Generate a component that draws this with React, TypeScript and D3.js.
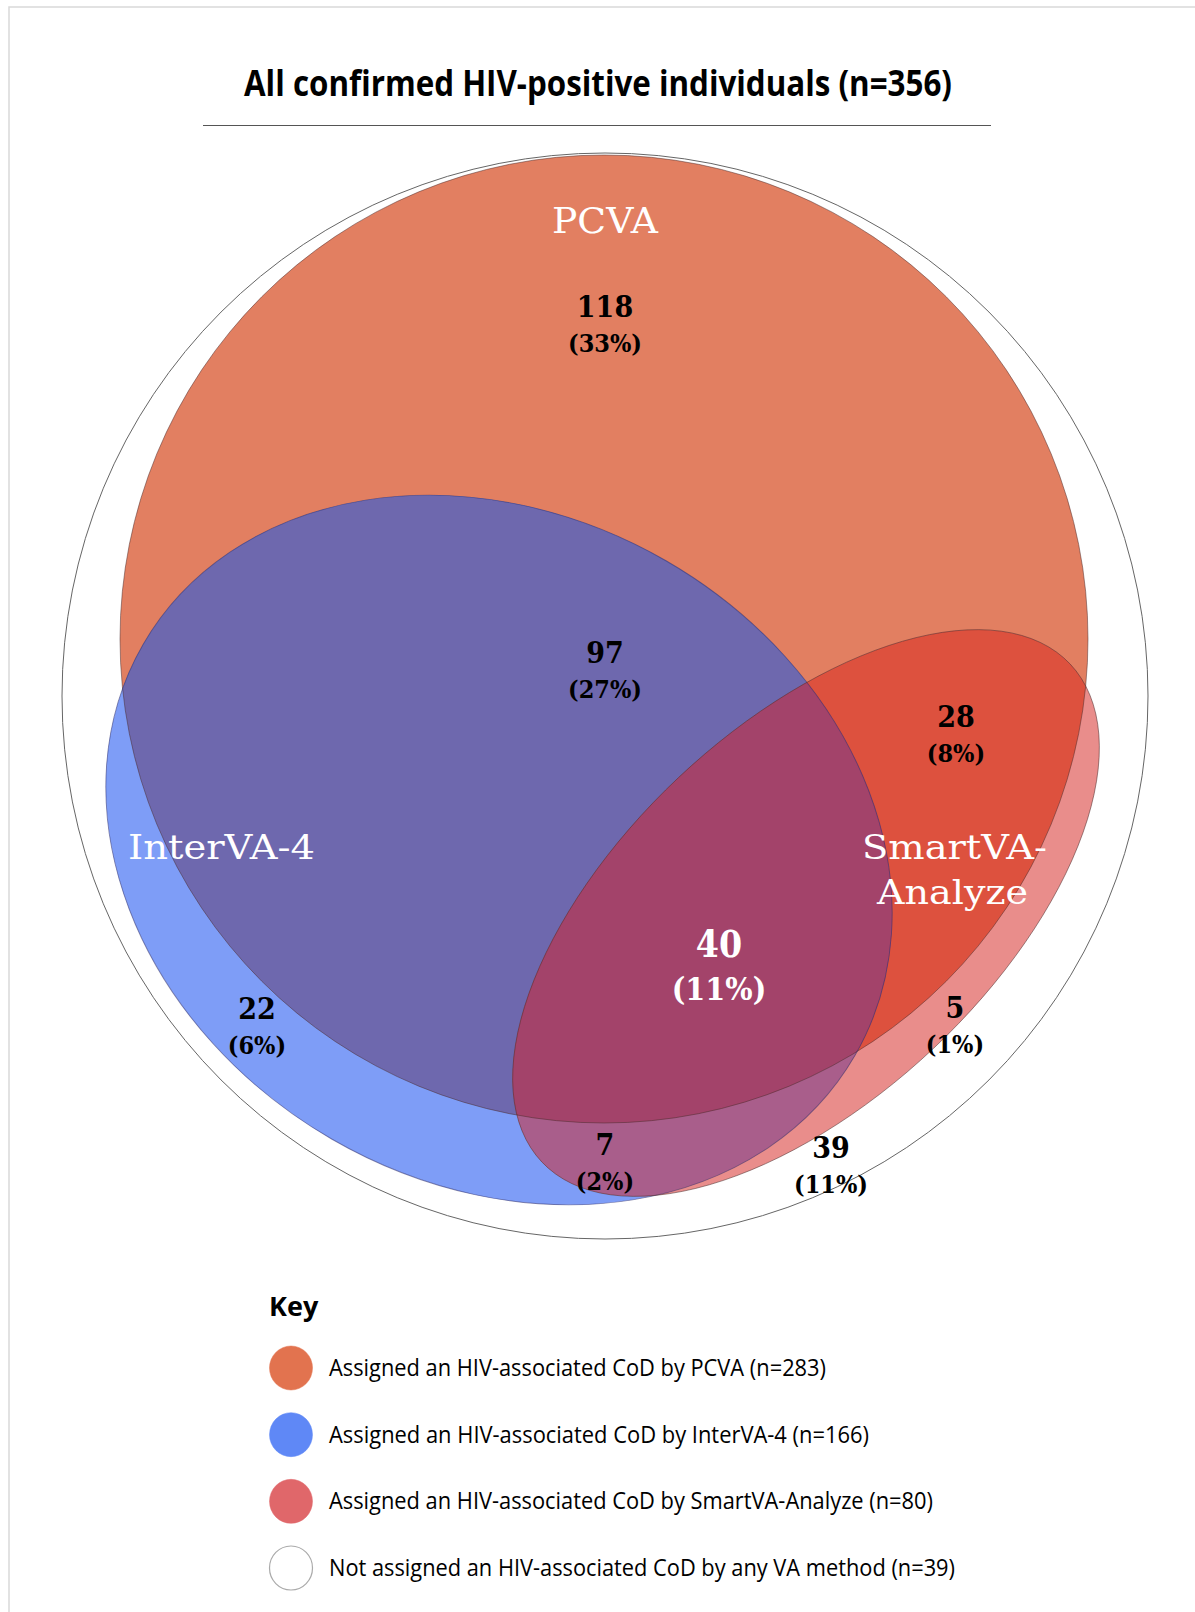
import React from "react";
import * as d3 from "d3";

// ---- data ----
const TOTAL = 356;
const title = "All confirmed HIV-positive individuals (n=356)";
const methodNames = ["PCVA", "InterVA-4", "SmartVA-Analyze"];
const methodCounts = [283, 166, 80];
const noneCount = 39;
const regionKeys = ["P", "PI", "PS", "PIS", "I", "S", "IS", "none"];
const regionCounts = [118, 97, 28, 40, 22, 5, 7, 39];
const legendLabels = [
  "Assigned an HIV-associated CoD by PCVA (n=283)",
  "Assigned an HIV-associated CoD by InterVA-4 (n=166)",
  "Assigned an HIV-associated CoD by SmartVA-Analyze (n=80)",
  "Not assigned an HIV-associated CoD by any VA method (n=39)",
];

// ---- layout ----
const W = 1195;
const H = 1612;
const outer = { cx: 605, cy: 696, r: 543 };
const pcva = { cx: 604, cy: 639, r: 484 };
const inter = { cx: 499, cy: 850, rx: 411, ry: 334, rot: 30 };
const smart = { cx: 806, cy: 913, rx: 363, ry: 186, rot: -43.3 };

const C = {
  P: "#E27F61",
  I: "#7E9DF7",
  S: "#E98D8B",
  PI: "#6E68AE",
  PS: "#DD513E",
  IS: "#A95E8B",
  PIS: "#A3436A",
};
const legendColors = ["#E2734F", "#5F88F6", "#E0676A", "#FFFFFF"];

const regionPos: Record<string, { x: number; y: number; white?: boolean; big?: boolean }> = {
  P: { x: 605, y: 317 },
  PI: { x: 605, y: 663 },
  PS: { x: 956, y: 727 },
  PIS: { x: 719, y: 957, white: true, big: true },
  I: { x: 257, y: 1019 },
  S: { x: 955, y: 1018 },
  IS: { x: 605, y: 1155 },
  none: { x: 831, y: 1158 },
};

const pct = (n: number) => `(${Math.round((n / TOTAL) * 100)}%)`;

const numFont = "'DejaVu Serif Condensed', 'DejaVu Serif', serif";
const typeFont = "'DejaVu Serif', serif";
const sansFont = "'Open Sans', 'Noto Sans', sans-serif";

const ellT = (e: { cx: number; cy: number; rot: number }) => `translate(${e.cx},${e.cy}) rotate(${e.rot})`;

export default function App() {
  const legendY = d3.scalePoint<number>().domain(d3.range(4)).range([1368, 1568]);
  const strokeProps = { fill: "none", stroke: "#4a2a2a", strokeOpacity: 0.55, strokeWidth: 0.9 };

  const interEl = (fill: string) => (
    <ellipse cx={0} cy={0} rx={inter.rx} ry={inter.ry} transform={ellT(inter)} fill={fill} />
  );
  const smartEl = (fill: string) => (
    <ellipse cx={0} cy={0} rx={smart.rx} ry={smart.ry} transform={ellT(smart)} fill={fill} />
  );

  return (
    <svg width={W} height={H} style={{ position: "absolute", left: 0, top: 0, background: "#fff" }}>
      <defs>
        <clipPath id="cp-pcva">
          <circle cx={pcva.cx} cy={pcva.cy} r={pcva.r} />
        </clipPath>
        <clipPath id="cp-inter">
          <ellipse cx={0} cy={0} rx={inter.rx} ry={inter.ry} transform={ellT(inter)} />
        </clipPath>
      </defs>

      {/* frame */}
      <rect x={9} y={7} width={W + 20} height={H + 20} fill="none" stroke="#d9d9d9" strokeWidth={1.5} />

      {/* title */}
      <text
        x={598}
        y={96}
        textAnchor="middle"
        fontFamily={sansFont}
        fontWeight={700}
        fontSize={35}
        textLength={708}
        lengthAdjust="spacingAndGlyphs"
        fill="#000"
      >
        {title}
      </text>
      <line x1={203} x2={991} y1={125.5} y2={125.5} stroke="#555" strokeWidth={1.2} />

      {/* outer universe */}
      <circle cx={outer.cx} cy={outer.cy} r={outer.r} fill="#fff" stroke="#666" strokeWidth={1} />

      {/* base fills */}
      <circle cx={pcva.cx} cy={pcva.cy} r={pcva.r} fill={C.P} />
      {interEl(C.I)}
      {smartEl(C.S)}
      <g clipPath="url(#cp-pcva)">{interEl(C.PI)}</g>
      <g clipPath="url(#cp-pcva)">{smartEl(C.PS)}</g>
      <g clipPath="url(#cp-inter)">{smartEl(C.IS)}</g>
      <g clipPath="url(#cp-pcva)">
        <g clipPath="url(#cp-inter)">{smartEl(C.PIS)}</g>
      </g>

      {/* outlines */}
      <circle cx={pcva.cx} cy={pcva.cy} r={pcva.r} {...strokeProps} />
      <ellipse cx={0} cy={0} rx={inter.rx} ry={inter.ry} transform={ellT(inter)} {...strokeProps} stroke="#2a2a6a" />
      <ellipse cx={0} cy={0} rx={smart.rx} ry={smart.ry} transform={ellT(smart)} {...strokeProps} />

      {/* method labels */}
      <g fontFamily={typeFont} fill="#fff">
        <text x={605} y={233} textAnchor="middle" fontSize={35} textLength={106} lengthAdjust="spacingAndGlyphs">
          {methodNames[0]}
        </text>
        <text x={128} y={859} fontSize={34} textLength={187} lengthAdjust="spacingAndGlyphs">
          {methodNames[1]}
        </text>
        <text x={862} y={859} fontSize={34} textLength={185} lengthAdjust="spacingAndGlyphs">
          {methodNames[2].split("-")[0] + "-"}
        </text>
        <text x={877} y={904} fontSize={34} textLength={151} lengthAdjust="spacingAndGlyphs">
          {methodNames[2].split("-")[1]}
        </text>
      </g>

      {/* region counts */}
      <g fontFamily={numFont} fontWeight={700} textAnchor="middle">
        {regionKeys.map((k, i) => {
          const p = regionPos[k];
          const n = regionCounts[i];
          return (
            <g key={k} fill={p.white ? "#fff" : "#000"}>
              <text x={p.x} y={p.y} fontSize={p.big ? 37 : 30}>
                {n}
              </text>
              <text x={p.x} y={p.y + (p.big ? 43 : 35)} fontSize={p.big ? 32 : 25}>
                {pct(n)}
              </text>
            </g>
          );
        })}
      </g>

      {/* legend */}
      <text x={269} y={1316} fontFamily={sansFont} fontWeight={700} fontSize={27} fill="#000">
        Key
      </text>
      {legendLabels.map((lab, i) => (
        <g key={lab}>
          <ellipse
            cx={291}
            cy={legendY(i)!}
            rx={21.5}
            ry={22}
            fill={legendColors[i]}
            stroke={i === 3 ? "#aaa" : legendColors[i]}
            strokeWidth={i === 3 ? 1.2 : 0.5}
          />
          <text
            x={329}
            y={legendY(i)! + 8}
            fontFamily={sansFont}
            fontSize={23}
            textLength={[497, 540, 604, 626][i]}
            lengthAdjust="spacingAndGlyphs"
            fill="#000"
          >
            {lab}
          </text>
        </g>
      ))}
    </svg>
  );
}
